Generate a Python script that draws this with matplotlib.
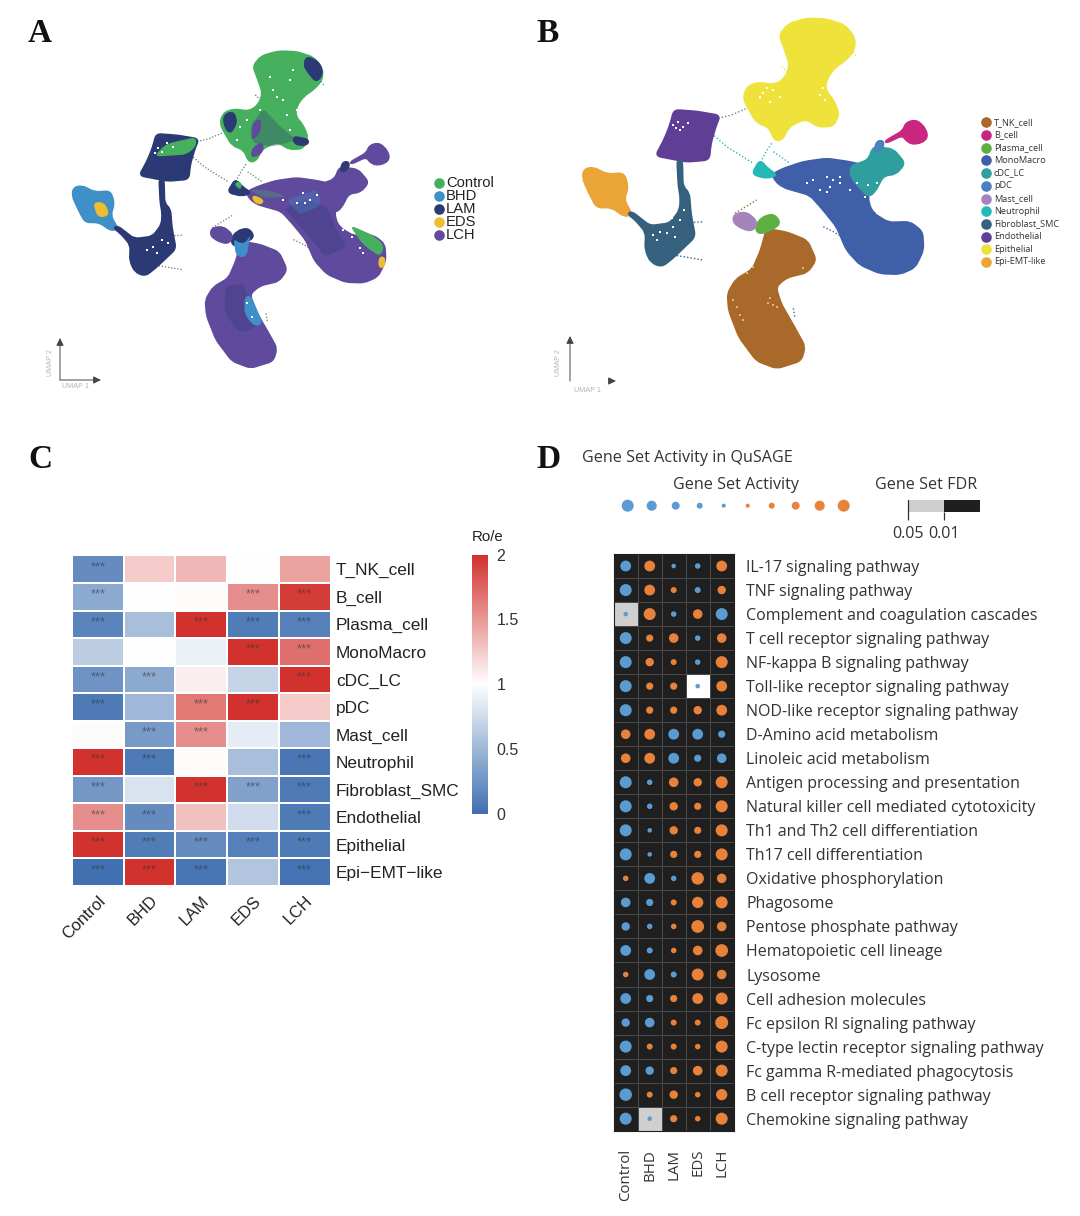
import numpy as np
import matplotlib
matplotlib.use("Agg")
import matplotlib.pyplot as plt
from matplotlib.colors import LinearSegmentedColormap, ListedColormap, Normalize, BoundaryNorm
from matplotlib.path import Path
from matplotlib.patches import PathPatch

W, H = 1080, 1216
SERIF = "Liberation Serif"
ARIAL = "Liberation Sans"
HUM = "Open Sans"

# ---------- DATA ----------
groups = ["Control", "BHD", "LAM", "EDS", "LCH"]
group_colors = ["#47B05E", "#3F8FC9", "#2B3A75", "#EDBE30", "#5F4A9D"]
cell_types = ["T_NK_cell", "B_cell", "Plasma_cell", "MonoMacro", "cDC_LC", "pDC", "Mast_cell",
              "Neutrophil", "Fibroblast_SMC", "Endothelial", "Epithelial", "Epi-EMT-like"]
cell_colors = ["#A9692A", "#C8267F", "#5DB041", "#3F5FA8", "#2E9E9E", "#4A80BF", "#A783BD",
               "#26B8B8", "#35617F", "#5F3F96", "#EFE23A", "#EBA436"]
heat_labels = ["T_NK_cell", "B_cell", "Plasma_cell", "MonoMacro", "cDC_LC", "pDC", "Mast_cell",
               "Neutrophil", "Fibroblast_SMC", "Endothelial", "Epithelial", "Epi\u2212EMT\u2212like"]
roe = [[0.20, 1.25, 1.35, 1.00, 1.45],
       [0.40, 1.00, 1.02, 1.55, 1.95],
       [0.15, 0.55, 2.00, 0.10, 0.12],
       [0.65, 1.00, 0.90, 2.00, 1.70],
       [0.25, 0.40, 1.08, 0.70, 2.00],
       [0.08, 0.50, 1.65, 2.00, 1.25],
       [1.02, 0.30, 1.55, 0.87, 0.50],
       [2.00, 0.08, 1.02, 0.55, 0.06],
       [0.28, 0.80, 2.00, 0.35, 0.08],
       [1.55, 0.20, 1.30, 0.75, 0.08],
       [2.00, 0.10, 0.20, 0.12, 0.08],
       [0.02, 2.00, 0.05, 0.60, 0.03]]
stars = [[1, 0, 0, 0, 0],
         [1, 0, 0, 1, 1],
         [1, 0, 1, 1, 1],
         [0, 0, 0, 1, 1],
         [1, 1, 0, 0, 1],
         [1, 0, 1, 1, 0],
         [0, 1, 1, 0, 0],
         [1, 1, 0, 0, 1],
         [1, 0, 1, 1, 1],
         [1, 1, 0, 0, 1],
         [1, 1, 1, 1, 1],
         [1, 1, 1, 0, 1]]
pathways = ["IL-17 signaling pathway", "TNF signaling pathway", "Complement and coagulation cascades",
            "T cell receptor signaling pathway", "NF-kappa B signaling pathway",
            "Toll-like receptor signaling pathway", "NOD-like receptor signaling pathway",
            "D-Amino acid metabolism", "Linoleic acid metabolism", "Antigen processing and presentation",
            "Natural killer cell mediated cytotoxicity", "Th1 and Th2 cell differentiation",
            "Th17 cell differentiation", "Oxidative phosphorylation", "Phagosome",
            "Pentose phosphate pathway", "Hematopoietic cell lineage", "Lysosome",
            "Cell adhesion molecules", "Fc epsilon RI signaling pathway",
            "C-type lectin receptor signaling pathway", "Fc gamma R-mediated phagocytosis",
            "B cell receptor signaling pathway", "Chemokine signaling pathway"]
activity = [[-4.5, 4.5, -1.9, -2.3, 4.5],
            [-5.0, 4.5, 2.5, -2.5, 3.5],
            [-1.9, 5.0, -2.3, 4.0, -5.0],
            [-5.0, 3.0, 4.0, -2.3, 4.0],
            [-5.0, 3.5, 2.5, -2.3, 5.0],
            [-5.0, 3.0, 3.0, -1.9, 4.5],
            [-5.0, 3.0, 3.0, 3.5, 4.5],
            [4.0, 4.5, -4.5, -4.5, -3.0],
            [4.0, 4.5, -4.5, -3.0, -4.0],
            [-5.0, -2.3, 4.0, 3.5, 5.0],
            [-5.0, -2.3, 3.5, 3.0, 5.0],
            [-5.0, -1.9, 3.5, 3.0, 5.0],
            [-5.0, -1.9, 3.0, 3.0, 5.0],
            [2.3, -4.5, -2.3, 5.2, 4.0],
            [-4.0, -3.0, 2.5, 4.7, 5.0],
            [-3.5, -2.3, 2.3, 5.3, 4.0],
            [-4.5, -2.5, 2.3, 4.0, 5.3],
            [2.3, -4.5, -2.5, 5.0, 4.0],
            [-4.5, -3.0, 3.0, 4.5, 5.0],
            [-3.5, -4.0, 2.5, 2.5, 5.4],
            [-5.0, 2.5, 2.5, 2.3, 5.0],
            [-4.5, -3.5, 3.0, 4.0, 5.0],
            [-5.2, 2.5, 3.5, 2.3, 4.7],
            [-5.0, -1.9, 3.0, 2.3, 5.0]]
# 2 = FDR<0.01 (black), 1 = FDR<0.05 (grey), 0 = n.s. (white)
fdr_class = [[2] * 5 for _ in pathways]
fdr_class[2][0] = 1
fdr_class[5][3] = 0
fdr_class[23][1] = 1
activity_legend = [-5, -4.2, -3.3, -2.5, -1.7, 1.7, 2.5, 3.3, 4.2, 5]

# UMAP outlines, in UMAP units
umap_outlines = {
    "Epithelial": [(718, 75), (745, 42), (800, 26), (860, 28), (915, 46), (945, 85), (942, 122), (915, 152), (885, 172),
                   (860, 205), (855, 240), (880, 270), (897, 312), (880, 348), (835, 350), (800, 327), (770, 337),
                   (745, 352), (728, 388), (705, 392), (688, 352), (650, 337), (628, 300), (610, 265), (622, 230),
                   (655, 218), (705, 225), (735, 205), (750, 165), (735, 120)],
    "Endothelial": [(402, 300), (470, 305), (540, 317), (528, 345), (512, 400), (507, 449), (440, 455), (347, 437),
                    (370, 395), (385, 360), (395, 330)],
    "Epi-EMT-like": [(132, 478), (160, 472), (200, 493), (252, 490), (264, 530), (252, 570), (275, 612), (255, 620),
                     (215, 592), (170, 592), (148, 550), (128, 505)],
    "Fibroblast_SMC": [(412, 450), (426, 450), (428, 530), (447, 548), (452, 610), (465, 680), (432, 712), (395, 747),
                       (365, 770), (333, 757), (316, 720), (318, 667), (285, 628), (263, 612), (275, 605), (330, 648),
                       (390, 640), (420, 600), (422, 560), (416, 530)],
    "MonoMacro": [(698, 492), (730, 476), (790, 456), (860, 446), (930, 456), (985, 470), (985, 580), (1000, 610),
                  (1045, 638), (1110, 636), (1147, 665), (1150, 720), (1125, 772), (1080, 792), (1020, 790), (960, 764),
                  (920, 720), (890, 650), (850, 600), (810, 555), (730, 532), (705, 512)],
    "cDC_LC": [(1000, 410), (1060, 418), (1095, 460), (1068, 492), (1030, 497), (1005, 545), (985, 560), (935, 505),
               (930, 470), (985, 450)],
    "pDC": [(1010, 393), (1032, 393), (1027, 417), (1003, 427)],
    "B_cell": [(1098, 338), (1130, 330), (1158, 358), (1162, 387), (1130, 403), (1103, 397), (1088, 375), (1040, 398),
               (1036, 393), (1090, 362)],
    "Neutrophil": [(660, 450), (685, 478), (712, 495), (680, 505), (636, 492)],
    "T_NK_cell": [(680, 657), (740, 667), (802, 692), (828, 750), (802, 787), (740, 802), (707, 830), (722, 880),
                  (762, 950), (795, 1010), (783, 1052), (710, 1075), (650, 1052), (598, 982), (567, 902), (563, 850),
                  (588, 808), (638, 778), (663, 720)],
    "Plasma_cell": [(665, 622), (702, 612), (722, 640), (690, 662), (655, 672), (646, 650)],
    "Mast_cell": [(583, 612), (620, 607), (652, 635), (640, 662), (610, 658), (579, 637)],
}
# UMAP cell type -> dominant group, as seen in panel A
dominant_group = {"Epithelial": "Control", "Endothelial": "LAM", "Epi-EMT-like": "BHD", "Fibroblast_SMC": "LAM",
                  "MonoMacro": "LCH", "cDC_LC": "LCH", "pDC": "LAM", "B_cell": "LCH", "Neutrophil": "LAM",
                  "T_NK_cell": "LCH", "Plasma_cell": "LAM", "Mast_cell": "LCH"}
# thin bridges of sparse cells
bridges_b = [[(535, 325), (575, 315), (620, 295)], [(515, 370), (560, 410), (640, 460)],
             [(695, 400), (675, 430), (655, 470)], [(700, 425), (750, 460)], [(850, 650), (880, 665), (930, 695)],
             [(420, 640), (490, 635)], [(400, 735), (490, 750)], [(585, 610), (650, 570)], [(760, 895), (765, 925)],
             [(725, 170), (735, 180)], [(940, 125), (950, 140)]]
bridge_colors_b = ["#7b8a5a", "#26B8B8", "#26B8B8", "#26B8B8", "#3F5FA8", "#35617F", "#35617F",
                   "#A9692A", "#3F5FA8", "#EFE23A", "#EFE23A"]
specks_b = [(400, 345), (415, 335), (430, 350), (445, 340), (420, 360), (408, 355), (670, 250), (700, 240), (720, 262),
            (690, 275), (680, 235), (660, 262), (850, 235), (855, 270), (840, 255), (880, 510), (900, 520), (870, 530),
            (950, 520), (985, 525), (900, 500), (930, 540), (860, 545), (350, 690), (380, 670), (400, 650), (420, 630),
            (432, 600), (405, 680), (360, 665), (340, 675), (395, 625), (415, 575), (800, 520), (820, 510), (1020, 540),
            (1040, 510), (975, 560), (1010, 610), (840, 540), (860, 500), (1030, 530), (1010, 520)]
specks_b_warm = [(700, 885), (690, 865), (710, 890), (600, 915), (590, 890), (580, 870), (640, 770), (620, 790),
                 (790, 775), (610, 930), (685, 880)]
# panel A overlays, in the coordinates of panel A
overlay_a = [
    ("LAM", [(830, 48), (868, 66), (880, 100), (860, 128), (835, 100), (820, 75)]),
    ("Control", [(415, 312), (497, 293), (497, 318), (470, 342), (375, 348), (400, 322)]),
    ("LCH", [(672, 245), (692, 238), (690, 278), (664, 302)]),
    ("LCH", [(668, 322), (700, 306), (697, 340), (663, 354)]),
    ("LAM", [(580, 225), (610, 213), (622, 245), (602, 282), (583, 262)]),
    ("LAM", [(788, 288), (838, 298), (832, 317), (793, 314)]),
    ("Control", [(962, 558), (1030, 588), (1062, 618), (1050, 648), (1000, 612)]),
    ("EDS", [(1048, 650), (1066, 653), (1062, 682), (1046, 682)]),
    ("EDS", [(668, 465), (702, 480), (692, 494), (670, 484)]),
    ("LAM", [(596, 442), (632, 428), (640, 462), (598, 462)]),
    ("Control", [(612, 430), (634, 426), (632, 450)]),
    ("EDS", [(190, 488), (222, 488), (238, 525), (205, 532)]),
    ("BHD", [(645, 772), (662, 768), (697, 850), (674, 858), (645, 822)]),
    ("BHD", [(612, 598), (662, 570), (648, 650), (620, 648)]),
    ("LAM", [(608, 595), (640, 568), (670, 573), (640, 612)]),
]
overlay_a_mottled = [
    ("LAM", [(762, 505), (830, 478), (890, 500), (920, 570), (950, 620), (885, 650), (830, 580)]),
    ("LAM", [(585, 740), (640, 730), (680, 860), (630, 880), (585, 820)]),
    ("LAM", [(660, 260), (700, 205), (745, 255), (800, 300), (730, 320), (670, 310)]),
    ("BHD", [(770, 480), (862, 448), (875, 495), (810, 525)]),
    ("Control", [(658, 448), (722, 452), (770, 470), (700, 474)]),
]
specks_a = [(385, 325), (410, 310), (430, 322), (375, 340), (395, 335), (690, 210), (650, 240), (730, 150), (780, 120),
            (740, 170), (800, 210), (770, 225), (760, 180), (720, 110), (790, 90), (780, 270), (630, 260), (620, 300),
            (820, 460), (840, 480), (860, 465), (800, 490), (825, 490), (370, 620), (395, 600), (415, 610), (350, 630),
            (380, 640), (650, 790), (665, 830), (930, 520), (965, 590), (990, 625), (760, 480), (1000, 640), (940, 570)]

fig = plt.figure(figsize=(W / 100, H / 100), dpi=100, facecolor="white")


def px_axes(x0, y0, x1, y1):
    return fig.add_axes([x0 / W, 1 - y1 / H, (x1 - x0) / W, (y1 - y0) / H])


def ftext(x, y, s, **kw):
    kw.setdefault("ha", "left")
    kw.setdefault("va", "center")
    return fig.text(x / W, 1 - y / H, s, **kw)


def rounded_path(pts, r=16.0):
    p = np.array(pts, dtype=float)
    n = len(p)
    verts, codes = [], []
    for i in range(n):
        a, b, c = p[i - 1], p[i], p[(i + 1) % n]
        la, lc = np.linalg.norm(a - b), np.linalg.norm(c - b)
        ra, rc = min(r, la / 2), min(r, lc / 2)
        start = b + (a - b) / la * ra
        end = b + (c - b) / lc * rc
        verts.append(start)
        codes.append(Path.MOVETO if i == 0 else Path.LINETO)
        verts += [b, end]
        codes += [Path.CURVE3, Path.CURVE3]
    verts.append(verts[0])
    codes.append(Path.CLOSEPOLY)
    return Path(verts, codes)


def add_blob(ax, pts, color, z=2, alpha=None, lw=1.6):
    ax.add_patch(PathPatch(rounded_path(pts), facecolor=color, edgecolor=color, lw=lw, zorder=z, alpha=alpha,
                           joinstyle="round"))


def draw_specks(ax, pts, color, size=1.8):
    xs, ys = zip(*pts)
    ax.scatter(xs, ys, s=size, c=color, marker="s", linewidths=0, zorder=6)


def umap_axes(x0, y0, x1, y1, xmax, ymax):
    ax = px_axes(x0, y0, x1, y1)
    ax.set_xlim(0, xmax)
    ax.set_ylim(ymax, 0)
    ax.axis("off")
    return ax


# ---------- Panel labels ----------
for s, x, y in [("A", 28, 33), ("B", 536, 33), ("C", 28, 460), ("D", 536, 460)]:
    ftext(x, y, s, family=SERIF, weight="bold", fontsize=24, color="#111111")

# ---------- Panel B ----------
axB = umap_axes(540, 10, 1070, 400, 1590, 1170)
type_color = dict(zip(cell_types, cell_colors))
for pts, col in zip(bridges_b, bridge_colors_b):
    xs, ys = zip(*pts)
    axB.plot(xs, ys, ls=(0, (1, 1.5)), lw=1.0, color=col, zorder=1)
for name, pts in umap_outlines.items():
    add_blob(axB, pts, type_color[name])
draw_specks(axB, specks_b, "white")
draw_specks(axB, specks_b_warm, "#E9B070")
for i, (name, col) in enumerate(zip(cell_types, cell_colors)):
    y = 122.3 + i * 12.7
    fig.add_artist(plt.Line2D([986 / W], [1 - y / H], marker="o", ms=6.6, mfc=col, mec=col, ls="none"))
    ftext(994, y, name, family=HUM, fontsize=6.6, color="#333333")

# ---------- Panel A ----------
axA = umap_axes(33.2, 43.55, 520.2, 396.5, 1590, 1170)
grp_color = dict(zip(groups, group_colors))
for pts in bridges_b:
    xs, ys = zip(*pts)
    axA.plot(xs, ys, ls=(0, (1, 1.5)), lw=0.9, color="#5b7a70", zorder=1)
for name, pts in umap_outlines.items():
    add_blob(axA, pts, grp_color[dominant_group[name]])
axA2 = umap_axes(30, 40, 510, 400, 1440, 1080)
for grp, pts in overlay_a_mottled:
    add_blob(axA2, pts, grp_color[grp], z=3, alpha=0.32, lw=0)
for grp, pts in overlay_a:
    add_blob(axA2, pts, grp_color[grp], z=4, lw=0.8)
draw_specks(axA2, specks_a, "white")
for i, (name, col) in enumerate(zip(groups, group_colors)):
    y = 183.3 + i * 12.95
    fig.add_artist(plt.Line2D([438.7 / W], [1 - y / H], marker="o", ms=6.6, mfc=col, mec=col, ls="none"))
    ftext(446, y, name, family=ARIAL, fontsize=10.6, color="#222222")

# UMAP axis glyphs
ov = px_axes(0, 0, W, H)
ov.set_xlim(0, W)
ov.set_ylim(H, 0)
ov.axis("off")
ov.patch.set_alpha(0)
arrow = dict(arrowstyle="-|>,head_width=0.22,head_length=0.45", color="#444444", lw=0.7, shrinkA=0, shrinkB=0)
ov.annotate("", xy=(60, 338), xytext=(60, 380), arrowprops=arrow)
ov.annotate("", xy=(101, 380), xytext=(60, 380), arrowprops=arrow)
ov.annotate("", xy=(570, 336), xytext=(570, 381), arrowprops=arrow)
ov.annotate("", xy=(616, 381), xytext=(609, 381), arrowprops=arrow)
ftext(51, 363, "UMAP 2", family=ARIAL, fontsize=5.2, color="#b5b5b5", rotation=90, ha="center")
ftext(76, 387, "UMAP 1", family=ARIAL, fontsize=5.2, color="#b5b5b5", ha="center")
ftext(558, 363, "UMAP 2", family=ARIAL, fontsize=5.2, color="#b5b5b5", rotation=90, ha="center")
ftext(588, 390, "UMAP 1", family=ARIAL, fontsize=5.2, color="#b5b5b5", ha="center")

# ---------- Panel C ----------
roe_cmap = LinearSegmentedColormap.from_list("roe", ["#3F6FB0", "#FFFFFF", "#D2322D"])
norm = Normalize(0, 2)
axC = px_axes(72, 555.5, 330.5, 886)
mesh = axC.pcolormesh(np.array(roe), cmap=roe_cmap, norm=norm, edgecolors="white", linewidth=1.4)
axC.set_ylim(len(cell_types), 0)
axC.set_xlim(0, len(groups))
for s in axC.spines.values():
    s.set_visible(False)
axC.yaxis.tick_right()
axC.set_yticks(np.arange(len(heat_labels)) + 0.5, heat_labels, family=ARIAL, fontsize=12.4, color="#222222")
axC.set_xticks(np.arange(len(groups)) + 0.5, groups, family=ARIAL, fontsize=12.0, color="#222222",
               rotation=45, ha="right", rotation_mode="anchor")
axC.tick_params(length=0, pad=4)
axC.tick_params(axis="x", pad=5)
for r, row in enumerate(stars):
    for c, flag in enumerate(row):
        if flag:
            axC.text(c + 0.5, r + 0.42, "***", ha="center", va="center", family=ARIAL, fontsize=9.3,
                     color="#33333a", alpha=0.6)
cax = px_axes(471.7, 554.5, 488.3, 814)
cb = fig.colorbar(plt.cm.ScalarMappable(norm=norm, cmap=roe_cmap), cax=cax, ticks=[0, 0.5, 1, 1.5, 2])
cb.ax.set_yticklabels(["0", "0.5", "1", "1.5", "2"], family=ARIAL, fontsize=11.5, color="#333333")
cb.ax.tick_params(length=0, pad=6)
cb.outline.set_visible(False)
ftext(488, 537, "Ro/e", family=ARIAL, fontsize=10.8, color="#222222", ha="center")

# ---------- Panel D ----------
fdr_cmap = ListedColormap(["#FFFFFF", "#CFCFCF", "#1F1F1F"])
fdr_norm = BoundaryNorm([-0.5, 0.5, 1.5, 2.5], 3)
axD = px_axes(613.7, 554, 733.7, 1130.7)
axD.pcolormesh(np.array(fdr_class), cmap=fdr_cmap, norm=fdr_norm, edgecolors="#4a4a4a", linewidth=0.6)
axD.set_xlim(0, 5)
axD.set_ylim(len(pathways), 0)
for s in axD.spines.values():
    s.set_color("#1f1f1f")
    s.set_linewidth(0.8)
act = np.array(activity)
cc, rr = np.meshgrid(np.arange(5) + 0.5, np.arange(len(pathways)) + 0.5)
BLUE, ORANGE = "#5B9BD2", "#E8813A"


def dot_size(v):
    return (np.abs(v) * 2.4 * 0.72) ** 2


axD.scatter(cc.ravel(), rr.ravel(), s=dot_size(act.ravel()),
            c=[BLUE if v < 0 else ORANGE for v in act.ravel()], linewidths=0, zorder=3)
axD.yaxis.tick_right()
axD.set_yticks(np.arange(len(pathways)) + 0.5, pathways, family=HUM, fontsize=11.5, color="#333333")
axD.set_xticks(np.arange(5) + 0.5, groups, family=HUM, fontsize=10.8, color="#333333", rotation=90)
axD.tick_params(length=0)
axD.tick_params(axis="y", pad=9)
axD.tick_params(axis="x", pad=13)

ftext(582, 458, "Gene Set Activity in QuSAGE", family=HUM, fontsize=11.6, color="#333333")
ftext(736, 485, "Gene Set Activity", family=HUM, fontsize=11.6, color="#333333", ha="center")
ftext(926, 485, "Gene Set FDR", family=HUM, fontsize=11.6, color="#333333", ha="center")

axL = px_axes(615.7, 493.7, 855.7, 517.7)
axL.set_xlim(0, 10)
axL.set_ylim(0, 1)
axL.axis("off")
lv = np.array(activity_legend, dtype=float)
axL.scatter(np.arange(10) + 0.5, [0.5] * 10, s=dot_size(lv),
            c=[BLUE if v < 0 else ORANGE for v in lv], linewidths=0, clip_on=False)

axF = px_axes(908.3, 500, 980, 511.7)
axF.pcolormesh([[0.5, 1.5]], cmap=ListedColormap(["#CFCFCF", "#1F1F1F"]), norm=Normalize(0, 2))
axF.set_ylim(0, 1)
for s in axF.spines.values():
    s.set_visible(False)
axF.set_yticks([])
axF.set_xticks([0, 1], ["0.05", "0.01"], family=HUM, fontsize=11.6, color="#333333")
axF.tick_params(axis="x", length=5.5, width=0.9, color="#333333", pad=5)
axF.plot([0, 0], [0, 1], color="#333333", lw=0.9, clip_on=False)

fig.savefig("out.png", dpi=100, facecolor="white")
